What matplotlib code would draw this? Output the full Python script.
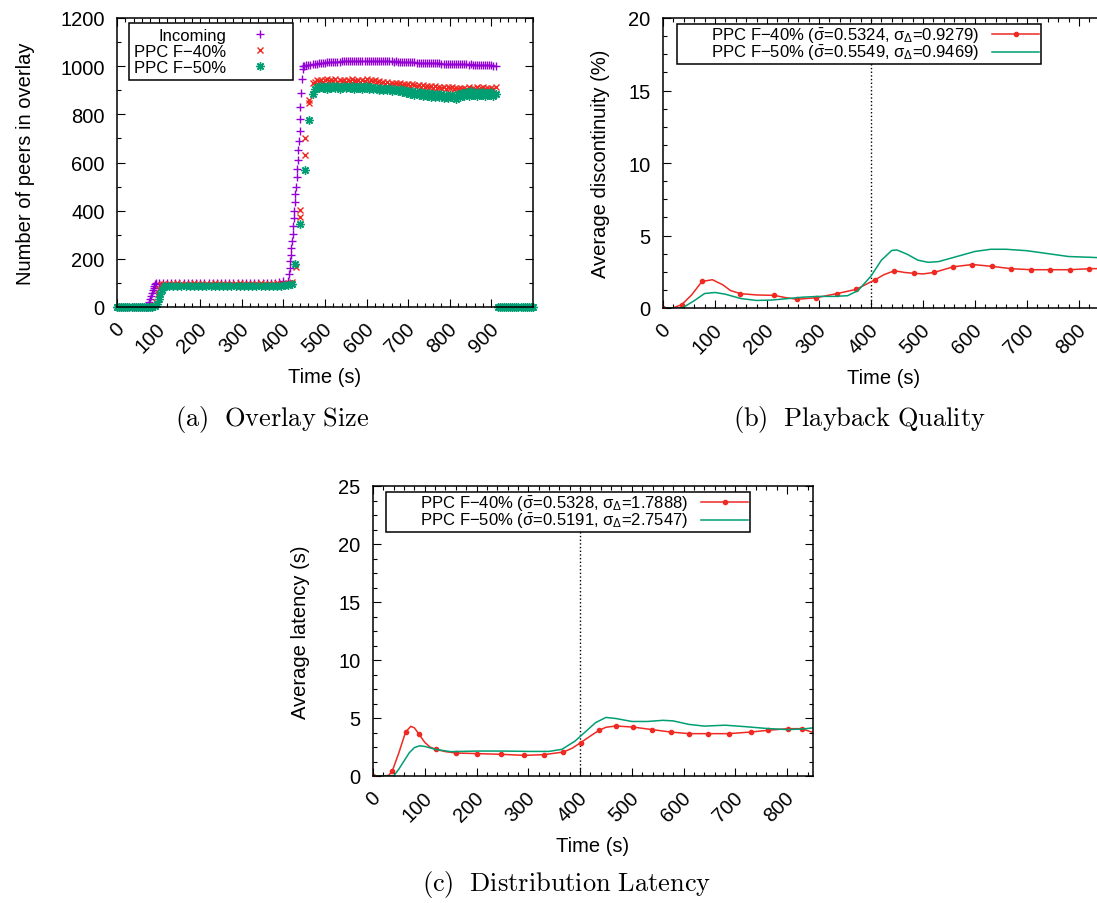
import numpy as np
import matplotlib
matplotlib.use('Agg')
import matplotlib.pyplot as plt
from matplotlib.ticker import MultipleLocator
from matplotlib.transforms import ScaledTranslation

plt.rcParams['font.family'] = ['Liberation Sans', 'DejaVu Sans']
plt.rcParams['mathtext.fontset'] = 'custom'
plt.rcParams['mathtext.rm'] = 'Liberation Sans'
plt.rcParams['mathtext.it'] = 'Liberation Sans'
plt.rcParams['mathtext.default'] = 'regular'

PURPLE = '#9400d3'
RED = '#ee2a22'
TEAL = '#009e73'

# ---------- (a) overlay size ----------
inc_t = (list(range(0, 71, 5))
         + [72, 74, 76, 78, 80, 82, 84, 86, 88, 90, 92, 94]
         + list(range(100, 401, 10))
         + [412, 413, 415, 416, 418, 419, 420, 422, 423, 425, 426, 427, 429, 430,
            432, 433, 434, 436, 437, 439, 440, 441, 443, 444, 446, 448, 450, 455,
            460, 465, 470]
         + list(range(475, 911, 5)))
inc_v = ([0] * 15
         + [2, 6, 12, 22, 34, 46, 58, 70, 80, 89, 95, 99]
         + [99, 100, 100, 101, 100, 100, 101, 100, 99, 100, 100, 101, 100, 100, 100, 101,
            100, 99, 100, 100, 101, 100, 100, 100, 99, 100, 101, 100, 100, 103, 106]
         + [110, 135, 160, 190, 215, 245, 275, 305, 335, 370, 400, 435, 470, 500,
            540, 575, 610, 650, 690, 730, 780, 830, 890, 945, 990, 1000, 1002, 1004,
            1005, 1006, 1007]
         + [1008, 1010, 1012, 1013, 1014, 1015, 1016, 1016, 1017, 1018,
            1018, 1019, 1019, 1020, 1020, 1021, 1020, 1021, 1022, 1021,
            1022, 1022, 1023, 1022, 1022, 1023, 1022, 1022, 1021, 1022,
            1021, 1021, 1022, 1021, 1020, 1021, 1020, 1020, 1019, 1020,
            1019, 1019, 1018, 1018, 1017, 1018, 1017, 1016, 1016, 1015,
            1015, 1015, 1014, 1014, 1013, 1014, 1013, 1012, 1013, 1012,
            1012, 1011, 1011, 1010, 1011, 1010, 1009, 1009, 1010, 1008,
            1008, 1008, 1007, 1007, 1006, 1007, 1006, 1005, 1005, 1006,
            1005, 1004, 1005, 1004, 1003, 1004, 1002, 1001])

f40_t = (list(range(0, 86, 5))
         + [90, 94, 98, 102, 106, 110]
         + list(range(115, 406, 10))
         + [412, 420, 430, 441, 441, 452, 452, 462, 462, 470]
         + list(range(475, 911, 5)))
f40_v = ([0] * 18
         + [8, 22, 52, 75, 90, 95]
         + [96, 97, 97, 98, 97, 96, 97, 98, 97, 97, 96, 97, 98, 97, 97, 96, 97, 97, 98, 97,
            96, 97, 97, 98, 97, 96, 97, 98, 97, 97]
         + [99, 105, 166, 373, 402, 631, 702, 845, 860, 930]
         + [936, 942, 938, 944, 935, 941, 946, 937, 943, 939,
            945, 936, 941, 938, 944, 935, 942, 939, 946, 937,
            940, 944, 936, 942, 938, 945, 934, 941, 937, 943,
            933, 939, 930, 936, 928, 934, 925, 932, 927, 930,
            924, 930, 922, 927, 920, 926, 918, 924, 921, 917,
            922, 915, 920, 913, 918, 912, 916, 910, 917, 911,
            914, 909, 915, 906, 912, 908, 913, 905, 910, 907,
            911, 904, 909, 906, 913, 903, 910, 907, 914, 905,
            909, 912, 906, 911, 904, 910, 907, 912])

f50_t = (list(range(0, 86, 5))
         + [92, 96, 100, 104, 108, 112]
         + list(range(115, 406, 10))
         + [412, 420, 428, 441, 452, 462, 470]
         + list(range(475, 911, 5))
         + list(range(915, 1001, 5)))
f50_v = ([0] * 18
         + [4, 14, 32, 55, 72, 82]
         + [86, 88, 87, 89, 88, 87, 88, 89, 88, 87, 88, 89, 87, 88, 88, 87, 89, 88, 87, 88,
            89, 88, 87, 88, 88, 89, 87, 88, 89, 90]
         + [90, 97, 178, 345, 570, 777, 885]
         + [905, 914, 908, 918, 910, 915, 906, 919, 911, 916,
            909, 917, 907, 913, 919, 908, 915, 910, 918, 906,
            914, 909, 916, 905, 912, 918, 907, 913, 904, 911,
            908, 902, 910, 899, 906, 901, 909, 896, 904, 900,
            897, 905, 892, 900, 888, 898, 885, 895, 882, 893,
            880, 892, 878, 890, 876, 888, 874, 886, 872, 884,
            870, 883, 868, 880, 866, 882, 870, 878, 865, 884,
            872, 888, 876, 892, 878, 895, 880, 890, 876, 893,
            879, 891, 876, 888, 880, 893, 878, 885]
         + [0] * 18)

# ---------- (b) playback quality ----------
b40_t = [0, 20, 36, 55, 75, 95, 115, 130, 149, 180, 214, 235, 258, 295, 334, 371, 408,
         425, 445, 465, 483, 500, 521, 540, 558, 595, 633, 670, 708, 745, 782, 820, 850]
b40_v = [0, 0.02, 0.23, 0.9, 1.83, 1.95, 1.6, 1.2, 0.99, 0.9, 0.87, 0.72, 0.6, 0.71,
         0.99, 1.28, 1.95, 2.3, 2.57, 2.45, 2.39, 2.35, 2.45, 2.65, 2.84, 3.0, 2.87,
         2.71, 2.64, 2.64, 2.64, 2.71, 2.72]
b40_marks = [0, 36, 75, 149, 214, 258, 295, 334, 371, 408, 445, 483, 521, 558, 595,
             633, 670, 708, 745, 782, 820]
b50_t = [0, 37, 60, 80, 100, 120, 150, 180, 210, 240, 270, 300, 330, 355, 375, 400,
         420, 440, 450, 470, 490, 510, 530, 560, 600, 630, 660, 700, 740, 780, 820, 850]
b50_v = [0, 0, 0.5, 1.0, 1.07, 0.95, 0.65, 0.52, 0.55, 0.65, 0.75, 0.8, 0.8, 0.85,
         1.2, 2.2, 3.3, 3.97, 4.0, 3.7, 3.3, 3.15, 3.2, 3.5, 3.9, 4.05, 4.05, 3.95,
         3.75, 3.55, 3.5, 3.45]

# ---------- (c) distribution latency ----------
c40_t = [0, 20, 30, 37, 50, 63, 73, 80, 89, 100, 110, 121, 140, 161, 201, 247, 292,
         331, 368, 385, 401, 420, 437, 450, 469, 502, 539, 575, 611, 648, 687, 730,
         763, 801, 828, 840, 850]
c40_v = [0, 0, 0.05, 0.4, 2.0, 3.8, 4.28, 4.15, 3.6, 2.9, 2.5, 2.3, 2.1, 1.98, 1.93,
         1.87, 1.78, 1.84, 2.07, 2.4, 2.87, 3.45, 3.94, 4.2, 4.31, 4.22, 4.0, 3.79,
         3.65, 3.65, 3.65, 3.79, 3.94, 4.08, 4.08, 3.9, 3.75]
c40_marks = [0, 37, 63, 89, 121, 161, 201, 247, 292, 331, 368, 401, 437, 469, 502,
             539, 575, 611, 648, 687, 730, 763, 801, 828]
c50_t = [0, 40, 50, 60, 70, 80, 90, 100, 120, 150, 200, 250, 300, 340, 365, 390, 410,
         430, 450, 470, 500, 530, 560, 580, 610, 640, 680, 720, 760, 800, 830, 850]
c50_v = [0, 0, 0.6, 1.3, 2.0, 2.45, 2.6, 2.55, 2.3, 2.1, 2.15, 2.15, 2.12, 2.12, 2.3,
         3.0, 3.8, 4.6, 5.05, 4.95, 4.7, 4.7, 4.8, 4.75, 4.45, 4.3, 4.38, 4.25, 4.1,
         4.0, 4.05, 4.15]

W, H = 1097, 904
fig = plt.figure(figsize=(W / 100, H / 100), dpi=100)
shift = ScaledTranslation(4 / 100, 0, fig.dpi_scale_trans)


def box(l, r, t, b):
    return [l / W, 1 - b / H, (r - l) / W, (b - t) / H]


def style(ax, xmaj, xmin, ymaj, ymin, xticks):
    ax.xaxis.set_major_locator(MultipleLocator(xmaj))
    ax.xaxis.set_minor_locator(MultipleLocator(xmin))
    ax.yaxis.set_major_locator(MultipleLocator(ymaj))
    ax.yaxis.set_minor_locator(MultipleLocator(ymin))
    ax.set_xticks(xticks)
    ax.tick_params(which='both', direction='in', top=True, right=True, labelsize=14.5,
                   width=0.8)
    ax.tick_params(which='major', length=6)
    ax.tick_params(which='minor', length=3)
    ax.tick_params(axis='y', pad=9)
    ax.tick_params(axis='x', pad=13)
    for lab in ax.get_xticklabels():
        lab.set_rotation(45)
        lab.set_ha('right')
        lab.set_va('center')
        lab.set_rotation_mode('anchor')
        lab.set_transform(lab.get_transform() + shift)
    for s in ax.spines.values():
        s.set_linewidth(1.1)


def legend(ax, x, y, hl, pad, spacing, bpad):
    leg = ax.legend(loc='upper left', bbox_to_anchor=(x / W, 1 - y / H),
                    bbox_transform=fig.transFigure, borderaxespad=0, fontsize=12,
                    markerfirst=False, fancybox=False, edgecolor='black',
                    framealpha=1, handlelength=hl, handletextpad=pad,
                    labelspacing=spacing, borderpad=bpad)
    leg.get_frame().set_linewidth(1.1)
    return leg


# (a)
ax1 = fig.add_axes(box(117, 533, 19, 308))
ax1.plot(inc_t, inc_v, ls='none', marker='+', ms=6, mew=1, color=PURPLE,
         label='Incoming', clip_on=False)
ax1.plot(f40_t, f40_v, ls='none', marker='x', ms=5, mew=1, color=RED,
         label='PPC F\u221240%', clip_on=False)
ax1.plot(f50_t, f50_v, ls='none', marker=(8, 2, 0), ms=6, mew=1, color=TEAL,
         label='PPC F\u221250%', clip_on=False)
ax1.set_xlim(0, 1000)
ax1.set_ylim(0, 1200)
style(ax1, 100, 20, 200, 100, range(0, 901, 100))
ax1.set_xlabel('Time (s)', fontsize=14.5, labelpad=8)
ax1.set_ylabel('Number of peers in overlay', fontsize=14.5, labelpad=18)
legend(ax1, 129, 24, 3.4, 0.34, 0.05, 0.3)

# (b)
ax2 = fig.add_axes(box(663, 1105, 19, 309))
ax2.axvline(400, color='black', ls=':', lw=1)
ax2.plot(b40_t, b40_v, color=RED, lw=1.1, marker='o', ms=3,
         markevery=[b40_t.index(m) for m in b40_marks],
         label=r'       PPC F$-$40% ($\bar{\sigma}$=0.5324, $\sigma_{\Delta}$=0.9279)')
ax2.plot(b50_t, b50_v, color=TEAL, lw=1.1,
         label=r'       PPC F$-$50% ($\bar{\sigma}$=0.5549, $\sigma_{\Delta}$=0.9469)')
ax2.set_xlim(0, 850)
ax2.set_ylim(0, 20)
style(ax2, 100, 20, 5, 1.25, range(0, 801, 100))
ax2.set_xlabel('Time (s)', fontsize=14.5, labelpad=8)
ax2.set_ylabel('Average discontinuity (%)', fontsize=14.5, labelpad=13)
legend(ax2, 677, 25, 2.8, 0.8, -0.1, 0.1)

# (c)
ax3 = fig.add_axes(box(373, 813, 487, 777))
ax3.axvline(400, color='black', ls=':', lw=1)
ax3.plot(c40_t, c40_v, color=RED, lw=1.1, marker='o', ms=3,
         markevery=[c40_t.index(m) for m in c40_marks],
         label=r'       PPC F$-$40% ($\bar{\sigma}$=0.5328, $\sigma_{\Delta}$=1.7888)')
ax3.plot(c50_t, c50_v, color=TEAL, lw=1.1,
         label=r'       PPC F$-$50% ($\bar{\sigma}$=0.5191, $\sigma_{\Delta}$=2.7547)')
ax3.set_xlim(0, 850)
ax3.set_ylim(0, 25)
style(ax3, 100, 20, 5, 1.25, range(0, 801, 100))
ax3.set_xlabel('Time (s)', fontsize=14.5, labelpad=8)
ax3.set_ylabel('Average latency (s)', fontsize=14.5, labelpad=20)
legend(ax3, 386, 493, 2.8, 0.8, -0.1, 0.1)

# captions
fig.text(272 / W, 1 - 420 / H, r'$\mathrm{(a)\ \ Overlay\ Size}$', ha='center',
         va='center', fontsize=19, math_fontfamily='cm')
fig.text(859 / W, 1 - 420 / H, r'$\mathrm{(b)\ \ Playback\ Quality}$', ha='center',
         va='center', fontsize=19, math_fontfamily='cm')
fig.text(567 / W, 1 - 885 / H, r'$\mathrm{(c)\ \ Distribution\ Latency}$', ha='center',
         va='center', fontsize=19, math_fontfamily='cm')

fig.savefig('out.png', dpi=100)
